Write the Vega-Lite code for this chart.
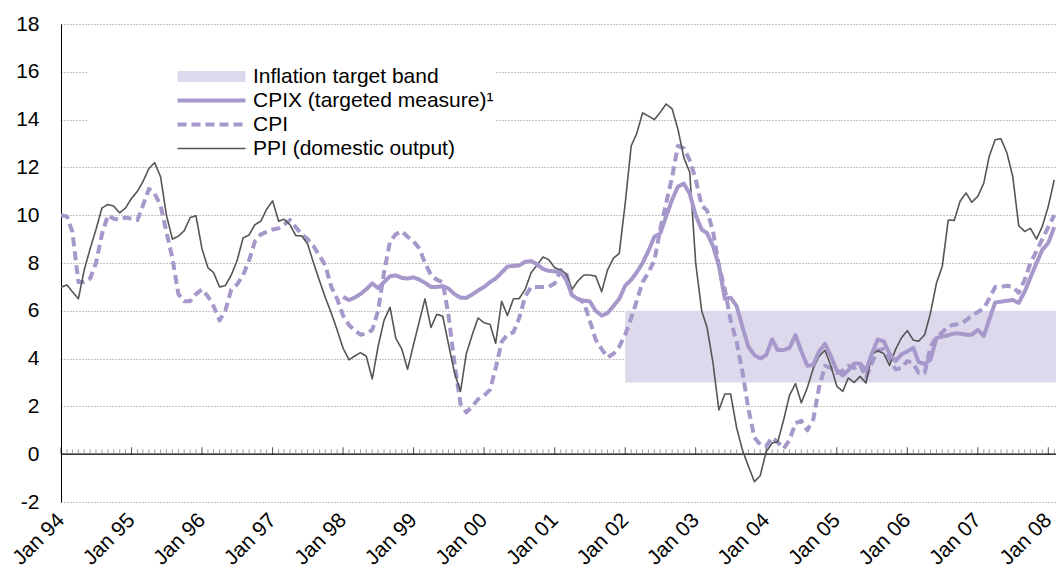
{
"$schema": "https://vega.github.io/schema/vega-lite/v6.json",
"width": 995, "height": 478,
"autosize": {"type": "none"},
"padding": {"left": 61, "top": 24, "right": 0, "bottom": 67},
"background": "white",
"config": {
  "view": {"stroke": null},
  "font": "Liberation Sans",
  "axisX": {"domain": false, "ticks": false, "grid": false, "labelAngle": -45, "labelFontSize": 21, "labelColor": "black", "labelPadding": 7, "labelOffset": -8, "labelOverlap": false, "labelFont": "Liberation Sans"},
  "axisY": {"domain": true, "domainColor": "black", "domainWidth": 1, "ticks": false, "grid": true, "gridDash": [1, 2], "gridColor": "#888888", "gridWidth": 1, "labelFontSize": 21, "labelColor": "black", "labelPadding": 22, "labelFont": "Liberation Sans"}
},
"data": {"format": {"parse": {"d": "date"}}, "values": [
{"d":"1994/01/01","cpi":10.0,"ppi":6.99},{"d":"1994/02/01","cpi":9.95,"ppi":7.08},{"d":"1994/03/01","cpi":9.3,"ppi":6.8},{"d":"1994/04/01","cpi":7.2,"ppi":6.5},{"d":"1994/05/01","cpi":7.2,"ppi":7.7},{"d":"1994/06/01","cpi":7.35,"ppi":8.6},{"d":"1994/07/01","cpi":8.0,"ppi":9.4},{"d":"1994/08/01","cpi":9.2,"ppi":10.3},{"d":"1994/09/01","cpi":10.0,"ppi":10.45},{"d":"1994/10/01","cpi":9.85,"ppi":10.38},{"d":"1994/11/01","cpi":9.8,"ppi":10.1},{"d":"1994/12/01","cpi":9.9,"ppi":10.3},
{"d":"1995/01/01","cpi":9.85,"ppi":10.7},{"d":"1995/02/01","cpi":9.8,"ppi":11.0},{"d":"1995/03/01","cpi":10.4,"ppi":11.4},{"d":"1995/04/01","cpi":11.1,"ppi":11.95},{"d":"1995/05/01","cpi":10.9,"ppi":12.2},{"d":"1995/06/01","cpi":10.4,"ppi":11.6},{"d":"1995/07/01","cpi":9.3,"ppi":10.0},{"d":"1995/08/01","cpi":8.2,"ppi":9.0},{"d":"1995/09/01","cpi":6.7,"ppi":9.12},{"d":"1995/10/01","cpi":6.4,"ppi":9.35},{"d":"1995/11/01","cpi":6.4,"ppi":9.9},{"d":"1995/12/01","cpi":6.7,"ppi":9.98},
{"d":"1996/01/01","cpi":6.9,"ppi":8.6},{"d":"1996/02/01","cpi":6.6,"ppi":7.8},{"d":"1996/03/01","cpi":6.2,"ppi":7.6},{"d":"1996/04/01","cpi":5.6,"ppi":7.0},{"d":"1996/05/01","cpi":6.0,"ppi":7.05},{"d":"1996/06/01","cpi":6.9,"ppi":7.5},{"d":"1996/07/01","cpi":7.1,"ppi":8.1},{"d":"1996/08/01","cpi":7.5,"ppi":9.05},{"d":"1996/09/01","cpi":8.1,"ppi":9.17},{"d":"1996/10/01","cpi":8.9,"ppi":9.6},{"d":"1996/11/01","cpi":9.2,"ppi":9.75},{"d":"1996/12/01","cpi":9.3,"ppi":10.25},
{"d":"1997/01/01","cpi":9.4,"ppi":10.6},{"d":"1997/02/01","cpi":9.45,"ppi":9.75},{"d":"1997/03/01","cpi":9.6,"ppi":9.83},{"d":"1997/04/01","cpi":9.8,"ppi":9.6},{"d":"1997/05/01","cpi":9.5,"ppi":9.15},{"d":"1997/06/01","cpi":9.2,"ppi":9.13},{"d":"1997/07/01","cpi":9.0,"ppi":8.8},{"d":"1997/08/01","cpi":8.7,"ppi":8.0},{"d":"1997/09/01","cpi":8.3,"ppi":7.25},{"d":"1997/10/01","cpi":7.9,"ppi":6.55},{"d":"1997/11/01","cpi":7.0,"ppi":5.9},{"d":"1997/12/01","cpi":6.5,"ppi":5.2},
{"d":"1998/01/01","cpi":5.8,"ppi":4.43,"cpix":6.58},{"d":"1998/02/01","cpi":5.4,"ppi":3.95,"cpix":6.45},{"d":"1998/03/01","cpi":5.2,"ppi":4.1,"cpix":6.55},{"d":"1998/04/01","cpi":5.0,"ppi":4.25,"cpix":6.7},{"d":"1998/05/01","cpi":5.05,"ppi":4.1,"cpix":6.9},{"d":"1998/06/01","cpi":5.2,"ppi":3.15,"cpix":7.15},{"d":"1998/07/01","cpi":6.0,"ppi":4.5,"cpix":6.95},{"d":"1998/08/01","cpi":7.6,"ppi":5.6,"cpix":7.2},{"d":"1998/09/01","cpi":8.9,"ppi":6.15,"cpix":7.45},{"d":"1998/10/01","cpi":9.2,"ppi":4.85,"cpix":7.48},{"d":"1998/11/01","cpi":9.33,"ppi":4.4,"cpix":7.38},{"d":"1998/12/01","cpi":9.1,"ppi":3.55,"cpix":7.35},
{"d":"1999/01/01","cpi":8.9,"ppi":4.6,"cpix":7.4},{"d":"1999/02/01","cpi":8.6,"ppi":5.6,"cpix":7.3},{"d":"1999/03/01","cpi":8.0,"ppi":6.5,"cpix":7.17},{"d":"1999/04/01","cpi":7.5,"ppi":5.3,"cpix":7.0},{"d":"1999/05/01","cpi":7.3,"ppi":5.85,"cpix":7.0},{"d":"1999/06/01","cpi":7.2,"ppi":5.78,"cpix":7.03},{"d":"1999/07/01","cpi":5.8,"ppi":4.6,"cpix":6.93},{"d":"1999/08/01","cpi":3.8,"ppi":3.4,"cpix":6.7},{"d":"1999/09/01","cpi":2.1,"ppi":2.63,"cpix":6.55},{"d":"1999/10/01","cpi":1.75,"ppi":4.2,"cpix":6.54},{"d":"1999/11/01","cpi":2.0,"ppi":5.0,"cpix":6.68},{"d":"1999/12/01","cpi":2.3,"ppi":5.7,"cpix":6.85},
{"d":"2000/01/01","cpi":2.45,"ppi":5.5,"cpix":7.0},{"d":"2000/02/01","cpi":2.7,"ppi":5.43,"cpix":7.2},{"d":"2000/03/01","cpi":3.6,"ppi":4.64,"cpix":7.35},{"d":"2000/04/01","cpi":4.7,"ppi":6.4,"cpix":7.6},{"d":"2000/05/01","cpi":5.0,"ppi":5.8,"cpix":7.85},{"d":"2000/06/01","cpi":5.1,"ppi":6.5,"cpix":7.88},{"d":"2000/07/01","cpi":5.7,"ppi":6.51,"cpix":7.9},{"d":"2000/08/01","cpi":6.6,"ppi":6.9,"cpix":8.05},{"d":"2000/09/01","cpi":7.0,"ppi":7.6,"cpix":8.08},{"d":"2000/10/01","cpi":7.0,"ppi":7.9,"cpix":7.95},{"d":"2000/11/01","cpi":7.0,"ppi":8.25,"cpix":7.75},{"d":"2000/12/01","cpi":7.0,"ppi":8.14,"cpix":7.67},
{"d":"2001/01/01","cpi":7.15,"ppi":7.8,"cpix":7.65},{"d":"2001/02/01","cpi":7.7,"ppi":7.7,"cpix":7.6},{"d":"2001/03/01","cpi":7.6,"ppi":7.56,"cpix":7.3},{"d":"2001/04/01","cpi":6.6,"ppi":6.9,"cpix":6.65},{"d":"2001/05/01","cpi":6.5,"ppi":7.25,"cpix":6.5},{"d":"2001/06/01","cpi":6.35,"ppi":7.5,"cpix":6.42},{"d":"2001/07/01","cpi":5.6,"ppi":7.5,"cpix":6.4},{"d":"2001/08/01","cpi":4.8,"ppi":7.45,"cpix":6.0},{"d":"2001/09/01","cpi":4.4,"ppi":6.8,"cpix":5.8},{"d":"2001/10/01","cpi":4.05,"ppi":7.7,"cpix":5.9},{"d":"2001/11/01","cpi":4.2,"ppi":8.2,"cpix":6.2},{"d":"2001/12/01","cpi":4.5,"ppi":8.4,"cpix":6.5},
{"d":"2002/01/01","cpi":5.0,"ppi":10.5,"cpix":7.05},{"d":"2002/02/01","cpi":5.7,"ppi":12.9,"cpix":7.3},{"d":"2002/03/01","cpi":6.4,"ppi":13.4,"cpix":7.6},{"d":"2002/04/01","cpi":7.2,"ppi":14.28,"cpix":8.0},{"d":"2002/05/01","cpi":7.6,"ppi":14.15,"cpix":8.5},{"d":"2002/06/01","cpi":8.1,"ppi":14.0,"cpix":9.1},{"d":"2002/07/01","cpi":9.4,"ppi":14.3,"cpix":9.23},{"d":"2002/08/01","cpi":10.5,"ppi":14.65,"cpix":9.95},{"d":"2002/09/01","cpi":11.6,"ppi":14.45,"cpix":10.65},{"d":"2002/10/01","cpi":12.9,"ppi":13.6,"cpix":11.2},{"d":"2002/11/01","cpi":12.8,"ppi":12.4,"cpix":11.32},{"d":"2002/12/01","cpi":12.3,"ppi":11.8,"cpix":10.9},
{"d":"2003/01/01","cpi":11.5,"ppi":8.0,"cpix":10.0},{"d":"2003/02/01","cpi":10.4,"ppi":6.0,"cpix":9.4},{"d":"2003/03/01","cpi":10.2,"ppi":5.3,"cpix":9.25},{"d":"2003/04/01","cpi":9.3,"ppi":3.8,"cpix":8.7},{"d":"2003/05/01","cpi":7.9,"ppi":1.85,"cpix":7.9},{"d":"2003/06/01","cpi":6.9,"ppi":2.52,"cpix":6.5},{"d":"2003/07/01","cpi":5.6,"ppi":2.52,"cpix":6.55},{"d":"2003/08/01","cpi":4.7,"ppi":1.1,"cpix":6.2},{"d":"2003/09/01","cpi":3.4,"ppi":0.15,"cpix":5.3},{"d":"2003/10/01","cpi":1.9,"ppi":-0.5,"cpix":4.5},{"d":"2003/11/01","cpi":0.7,"ppi":-1.15,"cpix":4.15},{"d":"2003/12/01","cpi":0.4,"ppi":-0.9,"cpix":4.0},
{"d":"2004/01/01","cpi":0.34,"ppi":0.1,"cpix":4.15},{"d":"2004/02/01","cpi":0.7,"ppi":0.47,"cpix":4.8},{"d":"2004/03/01","cpi":0.5,"ppi":0.52,"cpix":4.36},{"d":"2004/04/01","cpi":0.24,"ppi":1.45,"cpix":4.36},{"d":"2004/05/01","cpi":0.6,"ppi":2.47,"cpix":4.45},{"d":"2004/06/01","cpi":1.3,"ppi":2.95,"cpix":4.98},{"d":"2004/07/01","cpi":1.4,"ppi":2.15,"cpix":4.3},{"d":"2004/08/01","cpi":1.0,"ppi":2.78,"cpix":3.7},{"d":"2004/09/01","cpi":1.45,"ppi":3.59,"cpix":3.73},{"d":"2004/10/01","cpi":2.8,"ppi":4.1,"cpix":4.3},{"d":"2004/11/01","cpi":3.7,"ppi":4.35,"cpix":4.62},{"d":"2004/12/01","cpi":3.6,"ppi":3.7,"cpix":4.1},
{"d":"2005/01/01","cpi":3.4,"ppi":2.84,"cpix":3.5},{"d":"2005/02/01","cpi":3.5,"ppi":2.63,"cpix":3.3},{"d":"2005/03/01","cpi":3.7,"ppi":3.19,"cpix":3.5},{"d":"2005/04/01","cpi":3.6,"ppi":3.0,"cpix":3.8},{"d":"2005/05/01","cpi":3.75,"ppi":3.26,"cpix":3.8},{"d":"2005/06/01","cpi":3.2,"ppi":2.98,"cpix":3.5},{"d":"2005/07/01","cpi":3.8,"ppi":4.17,"cpix":4.2},{"d":"2005/08/01","cpi":4.35,"ppi":4.33,"cpix":4.8},{"d":"2005/09/01","cpi":4.4,"ppi":4.21,"cpix":4.72},{"d":"2005/10/01","cpi":4.0,"ppi":3.71,"cpix":4.2},{"d":"2005/11/01","cpi":3.55,"ppi":4.38,"cpix":3.9},{"d":"2005/12/01","cpi":3.6,"ppi":4.86,"cpix":4.17},
{"d":"2006/01/01","cpi":3.9,"ppi":5.17,"cpix":4.3},{"d":"2006/02/01","cpi":3.8,"ppi":4.77,"cpix":4.45},{"d":"2006/03/01","cpi":3.4,"ppi":4.73,"cpix":3.85},{"d":"2006/04/01","cpi":3.4,"ppi":5.0,"cpix":3.78},{"d":"2006/05/01","cpi":4.5,"ppi":5.91,"cpix":3.95},{"d":"2006/06/01","cpi":4.9,"ppi":7.16,"cpix":4.86},{"d":"2006/07/01","cpi":5.1,"ppi":7.86,"cpix":4.92},{"d":"2006/08/01","cpi":5.35,"ppi":9.8,"cpix":4.98},{"d":"2006/09/01","cpi":5.42,"ppi":9.78,"cpix":5.05},{"d":"2006/10/01","cpi":5.45,"ppi":10.58,"cpix":5.05},{"d":"2006/11/01","cpi":5.6,"ppi":10.93,"cpix":5.0},{"d":"2006/12/01","cpi":5.8,"ppi":10.54,"cpix":5.0},
{"d":"2007/01/01","cpi":5.95,"ppi":10.79,"cpix":5.2},{"d":"2007/02/01","cpi":6.1,"ppi":11.34,"cpix":4.95},{"d":"2007/03/01","cpi":6.5,"ppi":12.46,"cpix":5.63},{"d":"2007/04/01","cpi":7.0,"ppi":13.16,"cpix":6.35},{"d":"2007/05/01","cpi":7.0,"ppi":13.2,"cpix":6.38},{"d":"2007/06/01","cpi":7.05,"ppi":12.6,"cpix":6.42},{"d":"2007/07/01","cpi":7.0,"ppi":11.62,"cpix":6.45},{"d":"2007/08/01","cpi":6.75,"ppi":9.56,"cpix":6.33},{"d":"2007/09/01","cpi":7.3,"ppi":9.32,"cpix":6.8},{"d":"2007/10/01","cpi":8.0,"ppi":9.45,"cpix":7.4},{"d":"2007/11/01","cpi":8.5,"ppi":9.0,"cpix":8.0},{"d":"2007/12/01","cpi":9.0,"ppi":9.53,"cpix":8.55},
{"d":"2008/01/01","cpi":9.5,"ppi":10.37,"cpix":8.84},{"d":"2008/02/01","cpi":10.0,"ppi":11.48,"cpix":9.5}
]},
"layer": [
  {
    "data": {"format": {"parse": {"s": "date", "e": "date"}}, "values": [{"s": "2002/01/01", "e": "2008/02/10", "lo": 3, "hi": 6}]},
    "mark": {"type": "rect", "color": "#dcd9ec", "clip": true},
    "encoding": {
      "x": {"field": "s", "type": "temporal", "title": null, "scale": {"domain": [{"year": 1994, "month": 1, "date": 1}, {"year": 2008, "month": 2, "date": 10}]}},
      "x2": {"field": "e"},
      "y": {"field": "lo", "type": "quantitative", "title": null, "scale": {"domain": [-2, 18], "nice": false}},
      "y2": {"field": "hi"}
    }
  },
  {
    "data": {"values": [{}]},
    "mark": {"type": "rule", "color": "black", "strokeWidth": 1.2},
    "encoding": {"y": {"datum": 0, "type": "quantitative"}}
  },
  {
    "transform": [{"filter": "month(datum.d) != 0"}],
    "mark": {"type": "tick", "orient": "vertical", "size": 5, "thickness": 1, "yOffset": -2.5, "color": "#777777"},
    "encoding": {
      "x": {"field": "d", "type": "temporal", "title": null, "scale": {"domain": [{"year": 1994, "month": 1, "date": 1}, {"year": 2008, "month": 2, "date": 10}]}},
      "y": {"datum": 0, "type": "quantitative"}
    }
  },
  {
    "transform": [{"filter": "month(datum.d) == 0"}],
    "mark": {"type": "tick", "orient": "vertical", "size": 7, "thickness": 1, "yOffset": -3.5, "color": "#000000"},
    "encoding": {
      "x": {"field": "d", "type": "temporal", "title": null, "scale": {"domain": [{"year": 1994, "month": 1, "date": 1}, {"year": 2008, "month": 2, "date": 10}]}},
      "y": {"datum": 0, "type": "quantitative"}
    }
  },
  {
    "transform": [{"fold": ["cpi", "ppi", "cpix"], "as": ["k", "v"]}],
    "mark": {"type": "line", "strokeJoin": "round", "clip": true},
    "encoding": {
      "x": {"field": "d", "type": "temporal", "title": null,
            "scale": {"domain": [{"year": 1994, "month": 1, "date": 1}, {"year": 2008, "month": 2, "date": 10}]},
            "axis": {"format": "%b %y", "tickCount": {"interval": "year", "step": 1}}},
      "y": {"field": "v", "type": "quantitative", "title": null,
            "scale": {"domain": [-2, 18], "nice": false},
            "axis": {"values": [-2, 0, 2, 4, 6, 8, 10, 12, 14, 16, 18], "labelExpr": "'' + datum.value"}},
      "color": {"field": "k", "type": "nominal", "title": " ",
        "scale": {"domain": ["band", "cpix", "cpi", "ppi"], "range": ["#dcd9ec", "#a698ca", "#a698ca", "#555555"]},
        "legend": {"orient": "none", "legendX": 27, "legendY": 40, "titleOrient": "left", "titlePadding": 111, "titleFontSize": 21,
          "fillColor": "white", "padding": 2, "symbolType": "M-6.8,0H6.8", "symbolSize": 100, "labelFontSize": 21, "labelFont": "Liberation Sans", "labelColor": "black", "labelOffset": 31, "rowPadding": 2, "labelLimit": 400,
          "encode": {"symbols": {"update": {"strokeJoin": {"value": "round"}}}},
          "labelExpr": "{'band':'Inflation target band','cpix':'CPIX (targeted measure)¹','cpi':'CPI','ppi':'PPI (domestic output)'}[datum.label]"}},
      "strokeDash": {"field": "k", "type": "nominal", "title": " ",
        "scale": {"domain": ["band", "cpix", "cpi", "ppi"], "range": [[1, 0], [1, 0], [9, 5], [1, 0]]}},
      "strokeWidth": {"field": "k", "type": "nominal", "title": " ",
        "scale": {"type": "ordinal", "domain": ["band", "cpix", "cpi", "ppi"], "range": [11, 4, 4, 1.6]}}
    }
  }
]
}
